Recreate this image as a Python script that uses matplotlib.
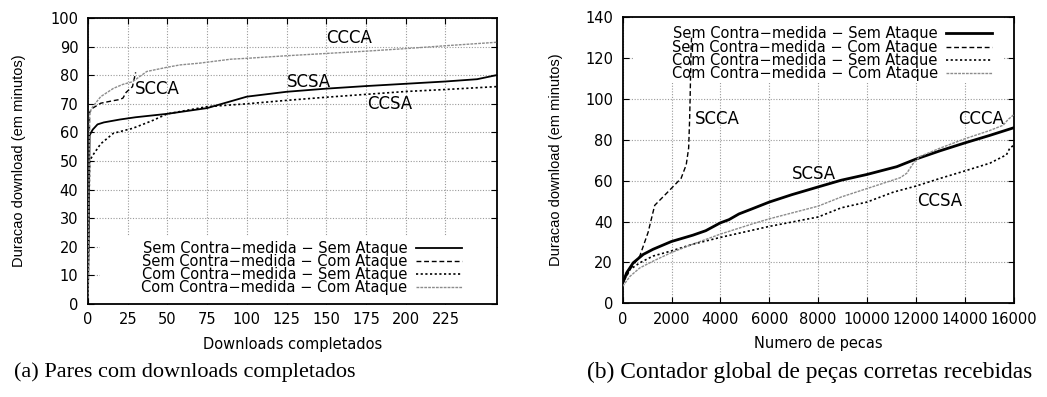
import matplotlib
matplotlib.use("Agg")
import matplotlib.pyplot as plt
from matplotlib.patches import Rectangle

plt.rcParams['font.family'] = ['DejaVu Sans']

# ---------------- data: left panel (downloads completados) ----------------
a_scsa_x = [0, 1, 3, 6, 10, 20, 30, 50, 75, 100, 125, 150, 175, 200, 225, 245, 257]
a_scsa_y = [2, 59, 61, 62.8, 63.5, 64.5, 65.3, 66.5, 68.5, 72.5, 74.2, 75.3, 76.2, 77.0, 77.8, 78.6, 80.0]
a_scca_x = [0, 1, 3, 8, 15, 20, 22, 24, 26, 28, 29, 30]
a_scca_y = [2, 67, 68.5, 70.2, 71.0, 71.5, 72.0, 74.0, 75.0, 76.0, 78.5, 81.0]
a_ccsa_x = [0, 1, 3, 8, 16, 28, 40, 50, 75, 100, 125, 150, 175, 200, 225, 257]
a_ccsa_y = [2, 50, 52, 56, 59.7, 61.4, 64.0, 66.5, 69.0, 70.0, 71.2, 72.3, 73.3, 74.3, 75.0, 76.0]
a_ccca_x = [0, 1, 3, 8, 16, 22, 28, 37, 50, 58, 70, 90, 100, 125, 150, 175, 200, 225, 257]
a_ccca_y = [2, 67, 69, 72.5, 75.4, 76.8, 77.7, 81.3, 82.8, 83.6, 84.2, 85.6, 85.9, 86.8, 87.6, 88.4, 89.3, 90.3, 91.5]

# ---------------- data: right panel (numero de pecas) ----------------
b_scsa_x = [0, 160, 430, 840, 1240, 1990, 2870, 3400, 3990, 4350, 4760, 5300, 6000, 6920, 8000,
            8950, 10000, 11220, 12000, 13000, 14000, 15000, 16000]
b_scsa_y = [9.9, 14.9, 19.8, 23.9, 26.4, 30.2, 33.3, 35.5, 39.3, 40.9, 43.7, 46.2, 49.5, 53.1, 56.9,
            60.2, 63.0, 66.8, 70.5, 74.6, 78.4, 82.0, 85.8]
b_scca_x = [0, 300, 700, 1040, 1310, 1920, 2390, 2600, 2660, 2700, 2740, 2760, 2800, 2820]
b_scca_y = [9.9, 16.5, 23.1, 34.7, 47.9, 55.3, 61.1, 67.7, 72.6, 75.9, 90.0, 100.0, 125.0, 130.0]
b_ccsa_x = [0, 300, 700, 1240, 1990, 2870, 3990, 6000, 8000, 8950, 10000, 11090, 12000, 13000,
            14000, 15030, 15710, 15850, 16000]
b_ccsa_y = [9.9, 16.5, 19.8, 23.1, 25.6, 28.9, 32.2, 37.6, 42.2, 46.7, 49.5, 54.4, 57.3, 61.1,
            64.7, 68.5, 72.6, 75.9, 77.2]
b_ccca_x = [0, 300, 700, 1240, 1990, 2870, 3990, 5300, 6000, 8000, 8950, 10000, 11360, 11630,
            11900, 12170, 13000, 14020, 15030, 15580, 15780, 16000]
b_ccca_y = [8.3, 13.2, 17.3, 20.6, 24.8, 28.9, 33.8, 38.8, 41.3, 47.5, 52.0, 56.1, 61.4, 63.6,
            68.5, 71.8, 75.9, 80.5, 84.5, 87.1, 89.9, 92.1]

series_labels = ["Sem Contra\u2212medida \u2212 Sem Ataque",
                 "Sem Contra\u2212medida \u2212 Com Ataque",
                 "Com Contra\u2212medida \u2212 Sem Ataque",
                 "Com Contra\u2212medida \u2212 Com Ataque"]

a_xticks = [0, 25, 50, 75, 100, 125, 150, 175, 200, 225]
a_yticks = [0, 10, 20, 30, 40, 50, 60, 70, 80, 90, 100]
b_xticks = [0, 2000, 4000, 6000, 8000, 10000, 12000, 14000, 16000]
b_yticks = [0, 20, 40, 60, 80, 100, 120, 140]

a_annot = [("SCCA", 29.6, 75.2), ("SCSA", 125.3, 77.6), ("CCCA", 150, 92.9), ("CCSA", 175.6, 69.9)]
b_annot = [("SCCA", 2961, 90.3), ("SCSA", 6921, 63.1), ("CCCA", 13752, 90.3), ("CCSA", 12034, 50.1)]

W, H = 1047, 397
fig = plt.figure(figsize=(W / 100, H / 100), dpi=100)

def box(x0, x1, ytop, ybot):
    return [x0 / W, 1 - ybot / H, (x1 - x0) / W, (ybot - ytop) / H]

axA = fig.add_axes(box(88, 497, 18, 304))
axB = fig.add_axes(box(622.7, 1013.5, 17, 303.3))

styles = [
    dict(color='black', linestyle='-'),
    dict(color='black', linestyle=(0, (3.5, 2.0))),
    dict(color='black', linestyle=(0, (1.3, 1.5))),
    dict(color='#8c8c8c', linestyle=(0, (2.0, 0.8))),
]

def style_axes(ax):
    ax.set_axisbelow(True)
    ax.grid(True, color='#9a9a9a', linestyle=(0, (1, 1.5)), linewidth=0.8)
    ax.tick_params(direction='in', top=True, right=True, length=4.5, width=0.8,
                   labelsize=10.5, colors='black')
    ax.tick_params(axis='y', pad=7)
    ax.tick_params(axis='x', pad=6)
    for s in ax.spines.values():
        s.set_linewidth(1.3)

ylab_kw = dict(fontsize=10.5, family=['Liberation Sans', 'DejaVu Sans'])

# ---- left panel ----
style_axes(axA)
axA.add_patch(Rectangle((0.03, 0.0), 0.97, 0.238, transform=axA.transAxes,
                        facecolor='white', edgecolor='none', zorder=1))
lwA = [1.3, 1.0, 1.2, 1.0]
for (xs, ys), st, lw, lab in zip([(a_scsa_x, a_scsa_y), (a_scca_x, a_scca_y),
                                  (a_ccsa_x, a_ccsa_y), (a_ccca_x, a_ccca_y)],
                                 styles, lwA, series_labels):
    axA.plot(xs, ys, linewidth=lw, label=lab, zorder=3, **st)
axA.set_xlim(0, 257.5)
axA.set_ylim(0, 100)
axA.set_xticks(a_xticks)
axA.set_yticks(a_yticks)
for t, x, y in a_annot:
    axA.text(x, y, t, fontsize=12, ha='left', va='center', zorder=4)
axA.set_xlabel("Downloads completados", fontsize=10.5, labelpad=7)
axA.set_ylabel("Duracao download (em minutos)", **ylab_kw)
axA.yaxis.set_label_coords(-0.152, 0.5)
legA = axA.legend(loc='lower right', bbox_to_anchor=(0.915, 0.03), markerfirst=False,
                  frameon=False, fontsize=10.5, handlelength=3.2, handletextpad=0.55,
                  labelspacing=-0.12, borderpad=0, borderaxespad=0)
legA.set_zorder(5)

# ---- right panel ----
style_axes(axB)
axB.add_patch(Rectangle((0.026, 0.769), 0.946, 0.231, transform=axB.transAxes,
                        facecolor='white', edgecolor='none', zorder=1))
lwB = [2.0, 1.0, 1.2, 1.0]
for (xs, ys), st, lw, lab in zip([(b_scsa_x, b_scsa_y), (b_scca_x, b_scca_y),
                                  (b_ccsa_x, b_ccsa_y), (b_ccca_x, b_ccca_y)],
                                 styles, lwB, series_labels):
    axB.plot(xs, ys, linewidth=lw, label=lab, zorder=3, **st)
axB.set_xlim(0, 16000)
axB.set_ylim(0, 140)
axB.set_xticks(b_xticks)
axB.set_yticks(b_yticks)
for t, x, y in b_annot:
    axB.text(x, y, t, fontsize=12, ha='left', va='center', zorder=4)
axB.set_xlabel("Numero de pecas", fontsize=10.5, labelpad=7)
axB.set_ylabel("Duracao download (em minutos)", **ylab_kw)
axB.yaxis.set_label_coords(-0.153, 0.5)
legB = axB.legend(loc='upper right', bbox_to_anchor=(0.946, 0.967), markerfirst=False,
                  frameon=False, fontsize=10.5, handlelength=3.2, handletextpad=0.55,
                  labelspacing=-0.12, borderpad=0, borderaxespad=0)
legB.set_zorder(5)

# ---- captions ----
fig.text(184.5 / W, 1 - 372 / H, "(a) Pares com downloads completados",
         family=['Liberation Serif', 'DejaVu Serif'], fontsize=16, ha='center', va='center')
fig.text(809.5 / W, 1 - 372 / H, "(b) Contador global de pe\u00e7as corretas recebidas",
         family=['Liberation Serif', 'DejaVu Serif'], fontsize=16.8, ha='center', va='center')

fig.savefig("out.png", dpi=100)
